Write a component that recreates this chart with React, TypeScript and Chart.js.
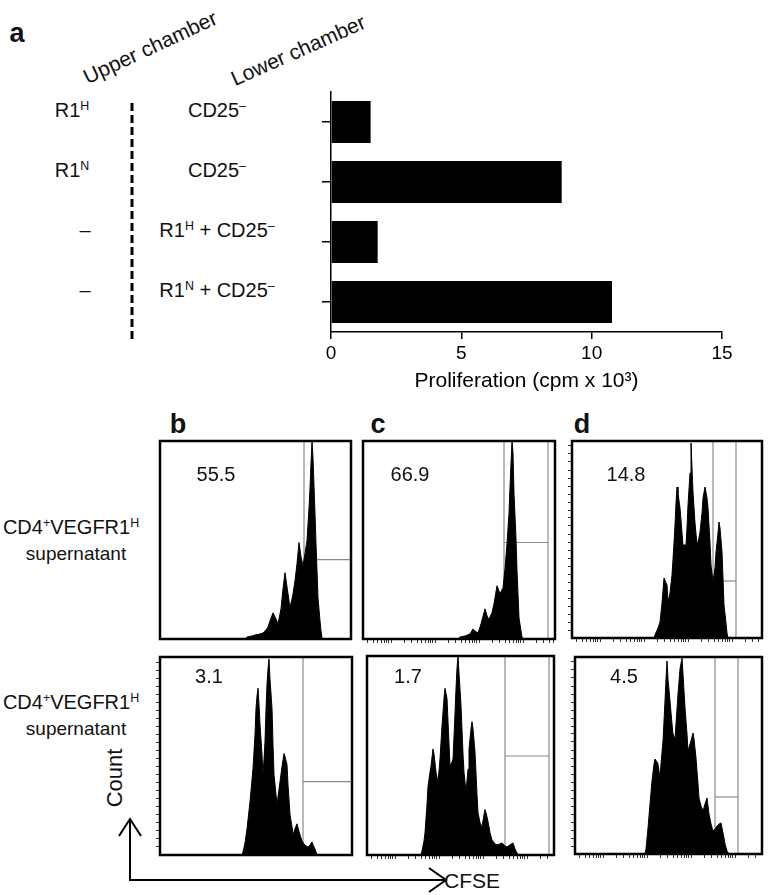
import React, { useEffect, useRef } from "react";
import { Chart, registerables } from "chart.js";

Chart.register(...registerables);

const FONT = '"Liberation Sans", Arial, Helvetica, sans-serif';

// ---------------- Panel a data ----------------
const upperChamber = ["R1^H", "R1^N", "–", "–"];
const lowerChamber = ["CD25^–", "CD25^–", "R1^H + CD25^–", "R1^N + CD25^–"];
const barCategories = ["R1H | CD25-", "R1N | CD25-", "- | R1H + CD25-", "- | R1N + CD25-"];
const proliferationValues = [1.52, 8.85, 1.79, 10.78];
const proliferationTicks = [0, 5, 10, 15];
const proliferationTitle = "Proliferation (cpm x 10³)";

// ---------------- Panels b-d data (CFSE channel, count) ----------------
const histTopB: number[][] = [[0,0],[86,0],[87,2],[92,3],[95,4],[100,5],[103,6],[106,9],[108,12],[110,18],[113,26],[116,20],[118,15],[121,30],[123,50],[125,66],[127,52],[128,45],[130,31],[132,40],[133,45],[135,58],[137,75],[139,96],[141,82],[143,73],[145,85],[147,98],[149,130],[150,150],[151,175],[152,197],[153,180],[155,125],[156,95],[158,41],[160,18],[161,8],[162,1],[163,0],[191,0]];
const histTopC: number[][] = [[0,0],[95,0],[97,2],[102,3],[107,5],[110,10],[112,8],[115,6],[118,15],[122,30],[125,20],[127,22],[129,26],[131,35],[134,53],[137,45],[140,51],[142,70],[144,95],[146,125],[147,151],[148,175],[149,197],[150,185],[151,145],[153,100],[154,68],[155,45],[156,21],[158,8],[159,2],[160,0],[192,0]];
const histTopD: number[][] = [[0,0],[82,0],[83,3],[86,10],[88,16],[90,35],[92,60],[94,55],[95,53],[96,36],[98,45],[100,63],[102,95],[103,113],[104,135],[105,151],[106,145],[108,130],[110,105],[111,93],[114,93],[115,110],[116,133],[118,165],[119,195],[120,170],[121,146],[123,115],[125,93],[127,100],[128,106],[130,125],[131,140],[133,151],[135,140],[136,130],[138,95],[139,73],[141,56],[143,70],[144,86],[146,105],[147,116],[148,110],[150,86],[151,60],[152,33],[154,15],[155,5],[156,0],[190,0]];
const histBotB: number[][] = [[0,0],[82,0],[83,3],[85,12],[87,26],[90,53],[93,86],[95,120],[96,146],[97,158],[98,166],[99,150],[100,130],[102,100],[103,80],[104,95],[105,113],[106,145],[107,170],[108,185],[109,195],[110,175],[112,146],[113,110],[114,80],[116,60],[117,50],[118,58],[120,73],[122,88],[124,101],[125,98],[127,90],[128,70],[130,40],[132,28],[133,20],[135,26],[137,31],[138,27],[140,20],[142,14],[144,11],[146,9],[148,8],[150,10],[152,13],[153,10],[155,6],[156,3],[157,0],[192,0]];
const histBotC: number[][] = [[0,0],[54,0],[55,4],[57,14],[58,22],[60,50],[61,68],[63,82],[64,88],[66,105],[67,100],[69,82],[71,72],[73,95],[75,128],[77,155],[78,165],[79,160],[80,155],[82,110],[83,88],[85,92],[86,95],[88,140],[89,165],[90,185],[91,197],[92,180],[94,148],[96,100],[97,82],[99,62],[101,85],[102,105],[104,125],[105,132],[106,125],[108,102],[110,60],[111,42],[113,32],[115,28],[117,40],[118,45],[120,38],[121,33],[123,22],[125,15],[128,11],[130,10],[133,11],[135,12],[138,9],[140,8],[143,10],[146,12],[148,6],[150,2],[151,0],[187,0]];
const histBotD: number[][] = [[0,0],[70,0],[71,5],[73,26],[75,50],[77,73],[79,90],[80,95],[82,92],[83,90],[85,76],[86,90],[88,113],[90,153],[91,175],[92,193],[93,175],[95,153],[97,130],[98,120],[100,115],[101,130],[103,160],[105,185],[107,196],[108,180],[110,146],[112,120],[113,103],[115,110],[116,113],[118,121],[119,115],[121,96],[123,70],[124,56],[126,48],[128,43],[130,50],[132,56],[133,48],[134,40],[136,30],[138,23],[140,25],[142,28],[144,30],[146,31],[147,26],[149,16],[150,10],[152,3],[154,0],[187,0]];

// gates: [left marker, right marker (null = axis end), horizontal level]
const gateTopB = [144, null, 79];
const gateTopC = [141, 185, 96];
const gateTopD = [141, 164, 57];
const gateBotB = [143, null, 73];
const gateBotC = [138, 182, 98];
const gateBotD = [140, 163, 57];

const percentUndivided = ["55.5", "66.9", "14.8", "3.1", "1.7", "4.5"];
const panelLetters = ["b", "c", "d"];
const rowLabel = ["CD4^+VEGFR1^H", "supernatant"];

const cfseDecadeStarts = [-16, 28, 72, 116, 160];
const cfseDecadeWidth = 44;
const cfseMinor = [1, 2, 3, 4, 5, 6, 7, 8, 9];
const countTickStep = 8;
const COUNT_MAX = 197;

// ---------------- helpers ----------------
function Rich({ text }: { text: string }) {
  const parts = text.split(/(\^.)/).filter((p) => p !== "");
  return (
    <>
      {parts.map((p, i) =>
        p.startsWith("^") ? (
          <span key={i} style={{ fontSize: "0.62em", position: "relative", top: "-0.6em" }}>{p.slice(1)}</span>
        ) : (
          <span key={i}>{p}</span>
        )
      )}
    </>
  );
}

function Label(props: { x: number; y: number; text: string; size?: number; bold?: boolean; rotate?: number }) {
  const { x, y, text, size = 19, bold = false, rotate = 0 } = props;
  return (
    <div
      style={{
        position: "absolute",
        left: x,
        top: y,
        transform: `translate(-50%, -50%) rotate(${rotate}deg)`,
        fontSize: size,
        fontWeight: bold ? 700 : 400,
        lineHeight: 1,
        whiteSpace: "pre",
        color: "#111",
      }}
    >
      <Rich text={text} />
    </div>
  );
}

const boxPlugin = {
  id: "boxFrame",
  afterDraw(chart: any) {
    const { ctx, chartArea } = chart;
    ctx.save();
    ctx.strokeStyle = "#000";
    ctx.lineWidth = 2.5;
    ctx.strokeRect(chartArea.left, chartArea.top, chartArea.right - chartArea.left, chartArea.bottom - chartArea.top);
    ctx.restore();
  },
};

function BarPanel() {
  const ref = useRef<HTMLCanvasElement>(null);
  useEffect(() => {
    const chart = new Chart(ref.current as HTMLCanvasElement, {
      type: "bar",
      data: {
        labels: barCategories,
        datasets: [
          {
            data: proliferationValues,
            backgroundColor: "#000",
            borderWidth: 0,
            barPercentage: 0.7,
            categoryPercentage: 1,
          },
        ],
      },
      options: {
        indexAxis: "y",
        responsive: false,
        animation: false,
        devicePixelRatio: 1,
        layout: { padding: { top: 12, right: 38, left: 0, bottom: 0 } },
        plugins: { legend: { display: false }, tooltip: { enabled: false } },
        scales: {
          x: {
            min: 0,
            max: 15,
            afterBuildTicks: (s: any) => {
              s.ticks = proliferationTicks.map((v) => ({ value: v }));
            },
            grid: { drawOnChartArea: false, drawTicks: true, tickLength: 7, color: "#000", lineWidth: 1.5 },
            border: { color: "#000", width: 1.5 },
            ticks: { color: "#000", font: { family: FONT, size: 19 }, padding: 3, maxRotation: 0 },
            title: { display: true, text: proliferationTitle, color: "#000", font: { family: FONT, size: 21 }, padding: 0 },
            afterFit: (s: any) => {
              s.height = 62;
            },
          },
          y: {
            offset: true,
            grid: { offset: false, drawOnChartArea: false, drawTicks: true, tickLength: 9, color: "#000", lineWidth: 1.5 },
            border: { color: "#000", width: 1.5 },
            ticks: { display: false },
            afterFit: (s: any) => {
              s.width = 51;
            },
          },
        },
      } as any,
    });
    return () => chart.destroy();
  }, []);
  return <canvas ref={ref} width={480} height={314} style={{ position: "absolute", left: 280, top: 80, width: 480, height: 314 }} />;
}

type HistProps = {
  data: number[][];
  gate: (number | null)[];
  left: number;
  top: number;
  width: number;
  height: number;
  xTicks: boolean;
  yTicks: boolean;
};

function Histogram({ data, gate, left, top, width, height, xTicks, yTicks }: HistProps) {
  const ref = useRef<HTMLCanvasElement>(null);
  useEffect(() => {
    const xMax = width;
    const gLo = gate[0] as number;
    const gHi = gate[1] === null ? xMax : (gate[1] as number);
    const gLevel = gate[2] as number;
    const gateColor = "#8a8a8a";
    const datasets: any[] = [
      {
        data: data.map(([x, y]) => ({ x, y })),
        fill: "origin",
        backgroundColor: "#000",
        borderColor: "#000",
        borderWidth: 1,
        pointRadius: 0,
        tension: 0,
        order: 0,
      },
      { data: [{ x: gLo, y: 0 }, { x: gLo, y: COUNT_MAX }], borderColor: gateColor, borderWidth: 1.2, pointRadius: 0, fill: false, order: 2 },
      { data: [{ x: gLo, y: gLevel }, { x: gHi, y: gLevel }], borderColor: gateColor, borderWidth: 1.2, pointRadius: 0, fill: false, order: 2 },
    ];
    if (gate[1] !== null) {
      datasets.push({ data: [{ x: gHi, y: 0 }, { x: gHi, y: COUNT_MAX }], borderColor: gateColor, borderWidth: 1.2, pointRadius: 0, fill: false, order: 2 });
    }
    const chart = new Chart(ref.current as HTMLCanvasElement, {
      type: "line",
      data: { datasets },
      options: {
        responsive: false,
        animation: false,
        devicePixelRatio: 1,
        layout: { padding: { left: 2, top: 3, right: 3, bottom: 2 } },
        plugins: { legend: { display: false }, tooltip: { enabled: false } },
        scales: {
          x: {
            type: "linear",
            min: 0,
            max: xMax,
            afterBuildTicks: (s: any) => {
              const vals: number[] = [];
              cfseDecadeStarts.forEach((d) => cfseMinor.forEach((k) => {
                const v = d + cfseDecadeWidth * Math.log10(k);
                if (v > 1 && v < xMax - 1) vals.push(v);
              }));
              s.ticks = vals.map((v) => ({ value: v }));
            },
            grid: { display: xTicks, drawOnChartArea: false, drawTicks: true, tickLength: 4, color: "#333", lineWidth: 1 },
            border: { display: false },
            ticks: { display: false },
            afterFit: (s: any) => {
              s.height = 6;
            },
          },
          y: {
            type: "linear",
            min: 0,
            max: COUNT_MAX,
            afterBuildTicks: (s: any) => {
              const vals: number[] = [];
              for (let v = countTickStep; v < COUNT_MAX - 2; v += countTickStep) vals.push(v);
              s.ticks = vals.map((v) => ({ value: v }));
            },
            grid: { display: yTicks, drawOnChartArea: false, drawTicks: true, tickLength: 4, color: "#333", lineWidth: 1 },
            border: { display: false },
            ticks: { display: false },
            afterFit: (s: any) => {
              s.width = 6;
            },
          },
        },
      } as any,
      plugins: [boxPlugin],
    });
    return () => chart.destroy();
  }, []);
  const cw = width + 8 + 3;
  const ch = height + 3 + 8;
  return (
    <canvas
      ref={ref}
      width={cw}
      height={ch}
      style={{ position: "absolute", left: left - 8, top: top - 3, width: cw, height: ch }}
    />
  );
}

export default function App() {
  const rowsY = [110, 170, 230, 290];
  const upperX = [72, 72, 85, 85];
  const hist = [
    { data: histTopB, gate: gateTopB, left: 160, top: 441, width: 191, height: 198, xTicks: false, yTicks: false },
    { data: histTopC, gate: gateTopC, left: 363, top: 441, width: 192, height: 198, xTicks: true, yTicks: false },
    { data: histTopD, gate: gateTopD, left: 572, top: 441, width: 190, height: 197, xTicks: true, yTicks: true },
    { data: histBotB, gate: gateBotB, left: 160, top: 657, width: 192, height: 198, xTicks: false, yTicks: true },
    { data: histBotC, gate: gateBotC, left: 367, top: 656, width: 187, height: 199, xTicks: true, yTicks: false },
    { data: histBotD, gate: gateBotD, left: 575, top: 657, width: 187, height: 197, xTicks: true, yTicks: true },
  ];
  const numPos = [
    [216, 474], [410, 474], [626, 474],
    [209, 676], [408, 676], [624, 676],
  ];
  const letterPos = [[178, 424], [378, 424], [582, 424]];
  return (
    <div
      style={{
        position: "absolute",
        left: 0,
        top: 0,
        width: 769,
        height: 895,
        overflow: "hidden",
        background: "#fff",
        fontFamily: FONT,
      }}
    >
      {/* Panel a */}
      <Label x={17} y={33} text="a" size={27} bold />
      <Label x={150} y={47} text="Upper chamber" size={21} rotate={-25} />
      <Label x={298} y={50} text="Lower chamber" size={21} rotate={-24} />
      {upperChamber.map((t, i) => (
        <Label key={"u" + i} x={upperX[i]} y={rowsY[i]} text={t} size={20} />
      ))}
      {lowerChamber.map((t, i) => (
        <Label key={"l" + i} x={217} y={rowsY[i]} text={t} size={20} />
      ))}
      <svg width={769} height={895} style={{ position: "absolute", left: 0, top: 0 }}>
        <line x1={132} y1={103} x2={132} y2={342} stroke="#000" strokeWidth={3} strokeDasharray="8 4" />
        <polyline points="130,819 130,880 446,880" fill="none" stroke="#000" strokeWidth={2} />
        <polyline points="119,836 130,819 141,836" fill="none" stroke="#000" strokeWidth={2} />
        <polyline points="429,868 446,880 429,892" fill="none" stroke="#000" strokeWidth={2} />
      </svg>
      <BarPanel />

      {/* Panels b-d */}
      {panelLetters.map((t, i) => (
        <Label key={"p" + i} x={letterPos[i][0]} y={letterPos[i][1]} text={t} size={27} bold />
      ))}
      {hist.map((h, i) => (
        <Histogram key={"h" + i} {...h} />
      ))}
      {percentUndivided.map((t, i) => (
        <Label key={"n" + i} x={numPos[i][0]} y={numPos[i][1]} text={t} size={20} />
      ))}
      <Label x={71} y={527} text={rowLabel[0]} size={20} />
      <Label x={76} y={553} text={rowLabel[1]} size={19} />
      <Label x={71} y={702} text={rowLabel[0]} size={20} />
      <Label x={76} y={728} text={rowLabel[1]} size={19} />
      <Label x={115} y={778} text="Count" size={22} rotate={-90} />
      <div style={{ position: "absolute", left: 444, top: 880, transform: "translateY(-50%)", fontSize: 21, lineHeight: 1, color: "#111" }}>CFSE</div>
    </div>
  );
}
